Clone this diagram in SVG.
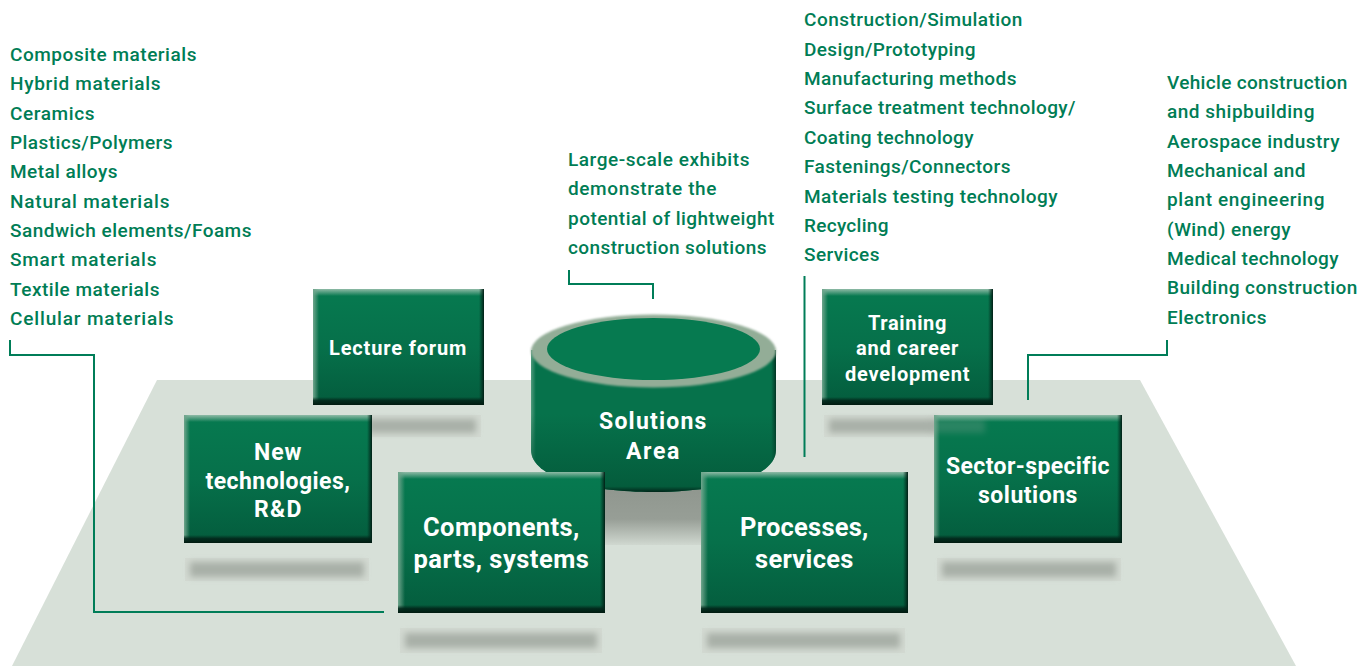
<svg xmlns="http://www.w3.org/2000/svg" width="1372" height="666" viewBox="0 0 1372 666">
<style>
.t{font-family:"Roboto","Liberation Sans",sans-serif;font-size:19px;font-weight:500;fill:#007d55;letter-spacing:.55px}
.w{font-family:"Roboto","Liberation Sans",sans-serif;font-weight:700;fill:#fff;text-anchor:middle;letter-spacing:.6px}
.c{fill:none;stroke:#007d58;stroke-width:2}
.b{fill:url(#face)}
.top{fill:url(#topB)}.bot{fill:url(#botB)}.lft{fill:url(#lftB)}.rgt{fill:url(#rgtB)}
.sh{fill:#a9b0a8;filter:url(#blur)}
.halo{fill:#d2d9d1}
</style>
<defs>
<linearGradient id="face" x1="0" y1="0" x2="0" y2="1"><stop offset="0" stop-color="#067a50"/><stop offset=".5" stop-color="#06704a"/><stop offset="1" stop-color="#045c3d"/></linearGradient>
<linearGradient id="topB" x1="0" y1="0" x2="0" y2="1"><stop offset="0" stop-color="#8fbaa6"/><stop offset="1" stop-color="#8fbaa6" stop-opacity="0"/></linearGradient>
<linearGradient id="botB" x1="0" y1="0" x2="0" y2="1"><stop offset="0" stop-color="#02261a" stop-opacity="0"/><stop offset=".45" stop-color="#02261a" stop-opacity=".9"/><stop offset="1" stop-color="#011a10"/></linearGradient>
<linearGradient id="lftB" x1="0" y1="0" x2="1" y2="0"><stop offset="0" stop-color="#6fa58c"/><stop offset="1" stop-color="#6fa58c" stop-opacity="0"/></linearGradient>
<linearGradient id="rgtB" x1="0" y1="0" x2="1" y2="0"><stop offset="0" stop-color="#02261a" stop-opacity="0"/><stop offset="1" stop-color="#011f15"/></linearGradient>
<linearGradient id="cyl" x1="0" y1="0" x2="1" y2="0"><stop offset="0" stop-color="#4f9a7c"/><stop offset=".02" stop-color="#06724b"/><stop offset=".98" stop-color="#06724b"/><stop offset="1" stop-color="#023524"/></linearGradient>
<linearGradient id="cylV" x1="0" y1="0" x2="0" y2="1"><stop offset="0" stop-color="#045c3c" stop-opacity="0"/><stop offset=".45" stop-color="#045c3c" stop-opacity="0"/><stop offset=".96" stop-color="#045c3c"/><stop offset="1" stop-color="#01261a"/></linearGradient>
<linearGradient id="cast" x1="0" y1="0" x2="0" y2="1"><stop offset="0" stop-color="#8e958d"/><stop offset=".6" stop-color="#979e96"/><stop offset="1" stop-color="#d0d8d0"/></linearGradient>
<filter id="blur" x="-10%" y="-50%" width="120%" height="200%"><feGaussianBlur stdDeviation="3"/></filter>
<filter id="soft" x="-5%" y="-5%" width="110%" height="110%"><feGaussianBlur stdDeviation=".8"/></filter>
</defs>
<rect width="1372" height="666" fill="#fff"/>
<polygon id="plane" points="157,380 1140,380 1296,666 12,666" fill="#d7e0d8"/>
<g id="shadows">
<rect class="halo" x="372" y="415" width="109" height="22"/>
<rect class="sh" x="368" y="419" width="108" height="14"/>
<rect class="halo" x="824" y="415" width="110" height="22"/>
<rect class="sh" x="829" y="419" width="110" height="14"/>
<rect class="halo" x="185" y="558" width="184" height="23"/>
<rect class="sh" x="190" y="562" width="174" height="15"/>
<rect class="halo" x="400" y="628" width="202" height="25"/>
<rect class="sh" x="405" y="633" width="192" height="15"/>
<rect class="halo" x="702" y="628" width="203" height="25"/>
<rect class="sh" x="707" y="633" width="193" height="15"/>
<rect class="halo" x="937" y="558" width="184" height="23"/>
<rect class="sh" x="942" y="562" width="174" height="15"/>
<rect x="605" y="480" width="96" height="65" fill="url(#cast)"/>
</g>
<g id="node-lecture">
<rect class="b" x="313" y="289" width="171" height="116"/>
<rect class="top" x="313" y="289" width="171" height="7"/><rect class="lft" x="313" y="289" width="6" height="116"/><rect class="rgt" x="479" y="289" width="5" height="116"/><rect class="bot" x="313" y="397" width="171" height="8"/>
<text class="w" x="398" y="355" font-size="20" textLength="138">Lecture forum</text>
</g>
<g id="node-training">
<rect class="b" x="822" y="289" width="171" height="116"/>
<rect class="top" x="822" y="289" width="171" height="7"/><rect class="lft" x="822" y="289" width="6" height="116"/><rect class="rgt" x="988" y="289" width="5" height="116"/><rect class="bot" x="822" y="397" width="171" height="8"/>
<text class="w" x="907.500" y="330" font-size="20" textLength="79">Training</text>
<text class="w" x="907.500" y="355" font-size="20" textLength="103">and career</text>
<text class="w" x="907.500" y="381" font-size="20" textLength="125">development</text>
</g>
<g id="node-solutions">
<path d="M531 350V450C531 478 590 492 653.500 492S776 478 776 450V350Z" fill="url(#cyl)"/>
<path d="M531 350V450C531 478 590 492 653.500 492S776 478 776 450V350Z" fill="url(#cylV)"/>
<ellipse cx="653.500" cy="351" rx="122.500" ry="36.500" fill="#93ad97" filter="url(#soft)"/>
<ellipse cx="653.500" cy="349" rx="106.500" ry="31" fill="#067a50"/>
<text class="w" x="653" y="429" font-size="23" textLength="108">Solutions</text>
<text class="w" x="653" y="459" font-size="23" textLength="54">Area</text>
</g>
<g id="node-newtech">
<rect class="b" x="184" y="415" width="188" height="128"/>
<rect class="top" x="184" y="415" width="188" height="7"/><rect class="lft" x="184" y="415" width="6" height="128"/><rect class="rgt" x="367" y="415" width="5" height="128"/><rect class="bot" x="184" y="535" width="188" height="8"/>
<text class="w" x="278" y="460" font-size="23" textLength="48">New</text>
<text class="w" x="278" y="489" font-size="23" textLength="145">technologies,</text>
<text class="w" x="278" y="517" font-size="23" textLength="48">R&amp;D</text>
</g>
<g id="node-sector">
<rect class="b" x="934" y="415" width="188" height="128"/>
<rect class="sh" x="929" y="419" width="56" height="14" opacity=".22"/>
<rect class="top" x="934" y="415" width="188" height="7"/><rect class="lft" x="934" y="415" width="6" height="128"/><rect class="rgt" x="1117" y="415" width="5" height="128"/><rect class="bot" x="934" y="535" width="188" height="8"/>
<text class="w" x="1028" y="474" font-size="23" textLength="164">Sector-specific</text>
<text class="w" x="1028" y="503" font-size="23" textLength="100">solutions</text>
</g>
<g id="node-components">
<rect class="b" x="398" y="472" width="207" height="141"/>
<rect class="top" x="398" y="472" width="207" height="7"/><rect class="lft" x="398" y="472" width="7" height="141"/><rect class="rgt" x="600" y="472" width="5" height="141"/><rect class="bot" x="398" y="605" width="207" height="8"/>
<text class="w" x="501.500" y="536" font-size="25.500" textLength="157">Components,</text>
<text class="w" x="501.500" y="568" font-size="25.500" textLength="176">parts, systems</text>
</g>
<g id="node-processes">
<rect class="b" x="701" y="472" width="207" height="141"/>
<rect class="top" x="701" y="472" width="207" height="7"/><rect class="lft" x="701" y="472" width="7" height="141"/><rect class="rgt" x="903" y="472" width="5" height="141"/><rect class="bot" x="701" y="605" width="207" height="8"/>
<text class="w" x="804.500" y="536" font-size="25.500" textLength="129">Processes,</text>
<text class="w" x="804.500" y="568" font-size="25.500" textLength="99">services</text>
</g>
<g id="connectors">
<path class="c" d="M10 340V355H94V612H384"/>
<path class="c" d="M569 270V284H653V299"/>
<path class="c" d="M804.500 276V457"/>
<path class="c" d="M1167 340V355H1028V400"/>
</g>
<g id="labels">
<text class="t" x="10" y="61" textLength="187">Composite materials</text>
<text class="t" x="10" y="90" textLength="151">Hybrid materials</text>
<text class="t" x="10" y="120" textLength="85">Ceramics</text>
<text class="t" x="10" y="149" textLength="163">Plastics/Polymers</text>
<text class="t" x="10" y="178" textLength="108">Metal alloys</text>
<text class="t" x="10" y="208" textLength="160">Natural materials</text>
<text class="t" x="10" y="237" textLength="242">Sandwich elements/Foams</text>
<text class="t" x="10" y="266" textLength="147">Smart materials</text>
<text class="t" x="10" y="296" textLength="150">Textile materials</text>
<text class="t" x="10" y="325" textLength="164">Cellular materials</text>
<text class="t" x="568" y="166" textLength="182">Large-scale exhibits</text>
<text class="t" x="568" y="195" textLength="149">demonstrate the</text>
<text class="t" x="568" y="225" textLength="207">potential of lightweight</text>
<text class="t" x="568" y="254" textLength="199">construction solutions</text>
<text class="t" x="804" y="26" textLength="219">Construction/Simulation</text>
<text class="t" x="804" y="56" textLength="172">Design/Prototyping</text>
<text class="t" x="804" y="85" textLength="213">Manufacturing methods</text>
<text class="t" x="804" y="114" textLength="272">Surface treatment technology/</text>
<text class="t" x="804" y="144" textLength="170">Coating technology</text>
<text class="t" x="804" y="173" textLength="207">Fastenings/Connectors</text>
<text class="t" x="804" y="203" textLength="254">Materials testing technology</text>
<text class="t" x="804" y="232" textLength="85">Recycling</text>
<text class="t" x="804" y="261" textLength="76">Services</text>
<text class="t" x="1167" y="89" textLength="181">Vehicle construction</text>
<text class="t" x="1167" y="118" textLength="148">and shipbuilding</text>
<text class="t" x="1167" y="148" textLength="173">Aerospace industry</text>
<text class="t" x="1167" y="177" textLength="139">Mechanical and</text>
<text class="t" x="1167" y="206" textLength="158">plant engineering</text>
<text class="t" x="1167" y="236" textLength="124">(Wind) energy</text>
<text class="t" x="1167" y="265" textLength="172">Medical technology</text>
<text class="t" x="1167" y="294" textLength="191">Building construction</text>
<text class="t" x="1167" y="324" textLength="100">Electronics</text>
</g>
</svg>
